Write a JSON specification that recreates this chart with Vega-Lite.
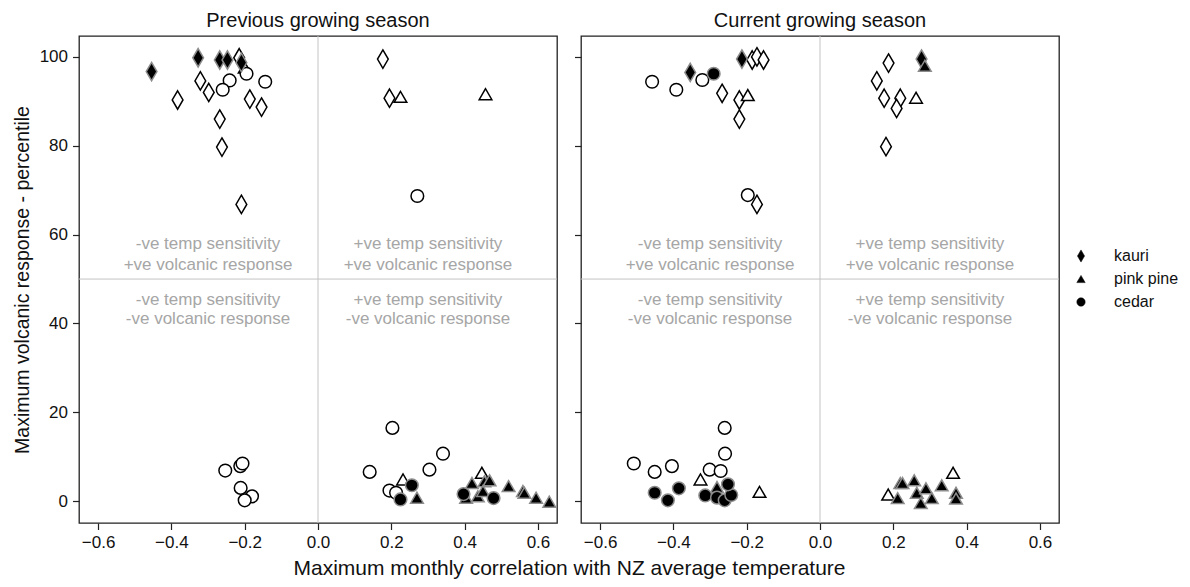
{
  "$schema": "https://vega.github.io/schema/vega-lite/v6.json",
  "background": "white",
  "padding": {"left": 11, "top": 9, "right": 5, "bottom": 5},
  "config": {
    "font": "Liberation Sans",
    "view": {"stroke": "#222", "strokeWidth": 1.3},
    "axis": {"grid": false, "domain": false, "labelFontSize": 17, "labelColor": "#111", "tickColor": "#222", "tickSize": 6.5, "tickWidth": 1.2, "titleFontSize": 19.5, "titleFontWeight": "normal", "titleColor": "#111", "labelPadding": 5},
    "title": {"fontSize": 20, "fontWeight": "normal", "color": "#111", "offset": 5},
    "legend": {"labelFontSize": 16, "labelColor": "#111"}
  },
  "datasets": {
    "pts": [
      {"season": "Previous", "species": "kauri", "filled": "no", "x": -0.215, "y": 99.8},
      {"season": "Previous", "species": "kauri", "filled": "no", "x": -0.321, "y": 94.6},
      {"season": "Previous", "species": "kauri", "filled": "no", "x": -0.298, "y": 92.0},
      {"season": "Previous", "species": "kauri", "filled": "no", "x": -0.383, "y": 90.3},
      {"season": "Previous", "species": "kauri", "filled": "no", "x": -0.186, "y": 90.5},
      {"season": "Previous", "species": "kauri", "filled": "no", "x": -0.154, "y": 88.7},
      {"season": "Previous", "species": "kauri", "filled": "no", "x": -0.268, "y": 86.0},
      {"season": "Previous", "species": "kauri", "filled": "no", "x": -0.262, "y": 79.7},
      {"season": "Previous", "species": "kauri", "filled": "no", "x": -0.209, "y": 66.8},
      {"season": "Previous", "species": "kauri", "filled": "no", "x": 0.177, "y": 99.5},
      {"season": "Previous", "species": "kauri", "filled": "no", "x": 0.195, "y": 90.7},
      {"season": "Previous", "species": "pink pine", "filled": "no", "x": -0.2, "y": 97.6},
      {"season": "Previous", "species": "pink pine", "filled": "no", "x": 0.225, "y": 91.0},
      {"season": "Previous", "species": "pink pine", "filled": "no", "x": 0.457, "y": 91.6},
      {"season": "Previous", "species": "pink pine", "filled": "no", "x": 0.232, "y": 4.9},
      {"season": "Previous", "species": "pink pine", "filled": "no", "x": 0.447, "y": 6.4},
      {"season": "Previous", "species": "cedar", "filled": "no", "x": -0.195, "y": 96.2},
      {"season": "Previous", "species": "cedar", "filled": "no", "x": -0.241, "y": 94.7},
      {"season": "Previous", "species": "cedar", "filled": "no", "x": -0.26, "y": 92.6},
      {"season": "Previous", "species": "cedar", "filled": "no", "x": -0.144, "y": 94.4},
      {"season": "Previous", "species": "cedar", "filled": "no", "x": 0.271, "y": 68.7},
      {"season": "Previous", "species": "cedar", "filled": "no", "x": -0.253, "y": 6.9},
      {"season": "Previous", "species": "cedar", "filled": "no", "x": -0.212, "y": 7.9},
      {"season": "Previous", "species": "cedar", "filled": "no", "x": -0.206, "y": 8.5},
      {"season": "Previous", "species": "cedar", "filled": "no", "x": -0.211, "y": 3.0},
      {"season": "Previous", "species": "cedar", "filled": "no", "x": -0.18, "y": 1.1},
      {"season": "Previous", "species": "cedar", "filled": "no", "x": -0.2, "y": 0.2},
      {"season": "Previous", "species": "cedar", "filled": "no", "x": 0.203, "y": 16.5},
      {"season": "Previous", "species": "cedar", "filled": "no", "x": 0.341, "y": 10.7},
      {"season": "Previous", "species": "cedar", "filled": "no", "x": 0.141, "y": 6.6},
      {"season": "Previous", "species": "cedar", "filled": "no", "x": 0.304, "y": 7.1},
      {"season": "Previous", "species": "cedar", "filled": "no", "x": 0.195, "y": 2.4},
      {"season": "Previous", "species": "cedar", "filled": "no", "x": 0.213, "y": 1.9},
      {"season": "Previous", "species": "kauri", "filled": "yes", "x": -0.454, "y": 96.7},
      {"season": "Previous", "species": "kauri", "filled": "yes", "x": -0.327, "y": 99.8},
      {"season": "Previous", "species": "kauri", "filled": "yes", "x": -0.268, "y": 99.3},
      {"season": "Previous", "species": "kauri", "filled": "yes", "x": -0.247, "y": 99.3},
      {"season": "Previous", "species": "kauri", "filled": "yes", "x": -0.209, "y": 98.7},
      {"season": "Previous", "species": "pink pine", "filled": "yes", "x": 0.27, "y": 0.8},
      {"season": "Previous", "species": "pink pine", "filled": "yes", "x": 0.42, "y": 4.1},
      {"season": "Previous", "species": "pink pine", "filled": "yes", "x": 0.454, "y": 4.5},
      {"season": "Previous", "species": "pink pine", "filled": "yes", "x": 0.468, "y": 4.7},
      {"season": "Previous", "species": "pink pine", "filled": "yes", "x": 0.404, "y": 0.8},
      {"season": "Previous", "species": "pink pine", "filled": "yes", "x": 0.436, "y": 1.1},
      {"season": "Previous", "species": "pink pine", "filled": "yes", "x": 0.45, "y": 2.3},
      {"season": "Previous", "species": "pink pine", "filled": "yes", "x": 0.52, "y": 3.4},
      {"season": "Previous", "species": "pink pine", "filled": "yes", "x": 0.559, "y": 2.3},
      {"season": "Previous", "species": "pink pine", "filled": "yes", "x": 0.563, "y": 1.9},
      {"season": "Previous", "species": "pink pine", "filled": "yes", "x": 0.595, "y": 0.8},
      {"season": "Previous", "species": "pink pine", "filled": "yes", "x": 0.631, "y": -0.1},
      {"season": "Previous", "species": "cedar", "filled": "yes", "x": 0.256, "y": 3.6},
      {"season": "Previous", "species": "cedar", "filled": "yes", "x": 0.225, "y": 0.4},
      {"season": "Previous", "species": "cedar", "filled": "yes", "x": 0.397, "y": 1.6},
      {"season": "Previous", "species": "cedar", "filled": "yes", "x": 0.479, "y": 0.7},

      {"season": "Current", "species": "kauri", "filled": "no", "x": -0.267, "y": 91.8},
      {"season": "Current", "species": "kauri", "filled": "no", "x": -0.185, "y": 99.3},
      {"season": "Current", "species": "kauri", "filled": "no", "x": -0.172, "y": 100.0},
      {"season": "Current", "species": "kauri", "filled": "no", "x": -0.154, "y": 99.3},
      {"season": "Current", "species": "kauri", "filled": "no", "x": -0.22, "y": 90.3},
      {"season": "Current", "species": "kauri", "filled": "no", "x": -0.22, "y": 86.0},
      {"season": "Current", "species": "kauri", "filled": "no", "x": -0.172, "y": 66.8},
      {"season": "Current", "species": "kauri", "filled": "no", "x": 0.187, "y": 98.6},
      {"season": "Current", "species": "kauri", "filled": "no", "x": 0.155, "y": 94.6},
      {"season": "Current", "species": "kauri", "filled": "no", "x": 0.175, "y": 90.7},
      {"season": "Current", "species": "kauri", "filled": "no", "x": 0.219, "y": 90.7},
      {"season": "Current", "species": "kauri", "filled": "no", "x": 0.209, "y": 88.4},
      {"season": "Current", "species": "kauri", "filled": "no", "x": 0.18, "y": 79.8},
      {"season": "Current", "species": "pink pine", "filled": "no", "x": -0.197, "y": 91.4},
      {"season": "Current", "species": "pink pine", "filled": "no", "x": 0.262, "y": 90.8},
      {"season": "Current", "species": "pink pine", "filled": "no", "x": -0.326, "y": 4.9},
      {"season": "Current", "species": "pink pine", "filled": "no", "x": -0.165, "y": 2.1},
      {"season": "Current", "species": "pink pine", "filled": "no", "x": 0.363, "y": 6.4},
      {"season": "Current", "species": "pink pine", "filled": "no", "x": 0.186, "y": 1.5},
      {"season": "Current", "species": "cedar", "filled": "no", "x": -0.458, "y": 94.4},
      {"season": "Current", "species": "cedar", "filled": "no", "x": -0.392, "y": 92.6},
      {"season": "Current", "species": "cedar", "filled": "no", "x": -0.321, "y": 94.8},
      {"season": "Current", "species": "cedar", "filled": "no", "x": -0.197, "y": 68.9},
      {"season": "Current", "species": "cedar", "filled": "no", "x": -0.26, "y": 16.5},
      {"season": "Current", "species": "cedar", "filled": "no", "x": -0.259, "y": 10.7},
      {"season": "Current", "species": "cedar", "filled": "no", "x": -0.508, "y": 8.5},
      {"season": "Current", "species": "cedar", "filled": "no", "x": -0.451, "y": 6.6},
      {"season": "Current", "species": "cedar", "filled": "no", "x": -0.404, "y": 7.9},
      {"season": "Current", "species": "cedar", "filled": "no", "x": -0.301, "y": 7.1},
      {"season": "Current", "species": "cedar", "filled": "no", "x": -0.271, "y": 6.8},
      {"season": "Current", "species": "kauri", "filled": "yes", "x": -0.354, "y": 96.5},
      {"season": "Current", "species": "kauri", "filled": "yes", "x": -0.213, "y": 99.5},
      {"season": "Current", "species": "kauri", "filled": "yes", "x": 0.277, "y": 99.5},
      {"season": "Current", "species": "pink pine", "filled": "yes", "x": 0.286, "y": 98.0},
      {"season": "Current", "species": "pink pine", "filled": "yes", "x": -0.281, "y": 3.2},
      {"season": "Current", "species": "pink pine", "filled": "yes", "x": 0.219, "y": 4.1},
      {"season": "Current", "species": "pink pine", "filled": "yes", "x": 0.225, "y": 4.1},
      {"season": "Current", "species": "pink pine", "filled": "yes", "x": 0.257, "y": 4.7},
      {"season": "Current", "species": "pink pine", "filled": "yes", "x": 0.212, "y": 0.7},
      {"season": "Current", "species": "pink pine", "filled": "yes", "x": 0.264, "y": 1.9},
      {"season": "Current", "species": "pink pine", "filled": "yes", "x": 0.275, "y": -0.4},
      {"season": "Current", "species": "pink pine", "filled": "yes", "x": 0.289, "y": 2.9},
      {"season": "Current", "species": "pink pine", "filled": "yes", "x": 0.305, "y": 0.7},
      {"season": "Current", "species": "pink pine", "filled": "yes", "x": 0.332, "y": 3.6},
      {"season": "Current", "species": "pink pine", "filled": "yes", "x": 0.371, "y": 1.9},
      {"season": "Current", "species": "pink pine", "filled": "yes", "x": 0.371, "y": 0.6},
      {"season": "Current", "species": "cedar", "filled": "yes", "x": -0.29, "y": 96.2},
      {"season": "Current", "species": "cedar", "filled": "yes", "x": -0.451, "y": 1.9},
      {"season": "Current", "species": "cedar", "filled": "yes", "x": -0.415, "y": 0.2},
      {"season": "Current", "species": "cedar", "filled": "yes", "x": -0.385, "y": 2.9},
      {"season": "Current", "species": "cedar", "filled": "yes", "x": -0.313, "y": 1.3},
      {"season": "Current", "species": "cedar", "filled": "yes", "x": -0.281, "y": 0.8},
      {"season": "Current", "species": "cedar", "filled": "yes", "x": -0.26, "y": 0.2},
      {"season": "Current", "species": "cedar", "filled": "yes", "x": -0.242, "y": 1.4},
      {"season": "Current", "species": "cedar", "filled": "yes", "x": -0.251, "y": 3.8}
    ],
    "ann": [
      {"x": -0.3, "y": 57.9, "label": "-ve temp sensitivity"},
      {"x": -0.3, "y": 53.2, "label": "+ve volcanic response"},
      {"x": 0.3, "y": 57.9, "label": "+ve temp sensitivity"},
      {"x": 0.3, "y": 53.2, "label": "+ve volcanic response"},
      {"x": -0.3, "y": 45.3, "label": "-ve temp sensitivity"},
      {"x": -0.3, "y": 40.9, "label": "-ve volcanic response"},
      {"x": 0.3, "y": 45.3, "label": "+ve temp sensitivity"},
      {"x": 0.3, "y": 40.9, "label": "-ve volcanic response"}
    ],
    "vline": [{"v": 0}],
    "hline": [{"v": 50}]
  },
  "spacing": 24,
  "bounds": "flush",
  "hconcat": [
    {
      "width": 478,
      "height": 487,
      "title": "Previous growing season",
      "layer": [
        {"data": {"name": "vline"}, "mark": {"type": "rule", "color": "#c4c4c4", "strokeWidth": 1}, "encoding": {"x": {"field": "v", "type": "quantitative", "scale": {"domain": [-0.652, 0.652], "nice": false, "zero": false}}}},
        {"data": {"name": "hline"}, "mark": {"type": "rule", "color": "#c4c4c4", "strokeWidth": 1}, "encoding": {"y": {"field": "v", "type": "quantitative", "scale": {"domain": [-4.9, 104.7], "nice": false, "zero": false}}}},
        {"data": {"name": "ann"}, "mark": {"type": "text", "baseline": "middle", "align": "center", "fontSize": 17, "color": "#a6a6a6"}, "encoding": {"x": {"field": "x", "type": "quantitative"}, "y": {"field": "y", "type": "quantitative"}, "text": {"field": "label"}}},
        {
          "data": {"name": "pts"},
          "transform": [{"filter": "datum.season == 'Previous'"}],
          "mark": {"type": "point", "filled": false, "size": 160, "strokeWidth": 1.5, "opacity": 1},
          "encoding": {
            "x": {"field": "x", "type": "quantitative", "scale": {"domain": [-0.652, 0.652], "nice": false, "zero": false}, "axis": {"values": [-0.6, -0.4, -0.2, 0, 0.2, 0.4, 0.6], "format": ".1f", "title": "Maximum monthly correlation with NZ average temperature", "titleX": 490, "titlePadding": 7, "titleFontSize": 21}},
            "y": {"field": "y", "type": "quantitative", "scale": {"domain": [-4.9, 104.7], "nice": false, "zero": false}, "axis": {"values": [0, 20, 40, 60, 80, 100], "title": "Maximum volcanic response - percentile", "titlePadding": 7}},
            "shape": {"field": "species", "type": "nominal", "scale": {"domain": ["kauri", "pink pine", "cedar"], "range": ["M0,-1.45L0.85,0L0,1.45L-0.85,0Z", "triangle-up", "circle"]}, "legend": {"title": null, "orient": "none", "legendX": 994, "legendY": 212, "symbolSize": 70, "symbolFillColor": "black", "symbolStrokeColor": "black", "symbolStrokeWidth": 0.5, "rowPadding": 7, "labelOffset": 25}},
            "fill": {"field": "filled", "type": "nominal", "scale": {"domain": ["yes", "no"], "range": ["black", "white"]}, "legend": null},
            "stroke": {"field": "filled", "type": "nominal", "scale": {"domain": ["yes", "no"], "range": ["#8c8c8c", "black"]}, "legend": null}
          }
        }
      ]
    },
    {
      "width": 478,
      "height": 487,
      "title": "Current growing season",
      "layer": [
        {"data": {"name": "vline"}, "mark": {"type": "rule", "color": "#c4c4c4", "strokeWidth": 1}, "encoding": {"x": {"field": "v", "type": "quantitative", "scale": {"domain": [-0.652, 0.652], "nice": false, "zero": false}}}},
        {"data": {"name": "hline"}, "mark": {"type": "rule", "color": "#c4c4c4", "strokeWidth": 1}, "encoding": {"y": {"field": "v", "type": "quantitative", "scale": {"domain": [-4.9, 104.7], "nice": false, "zero": false}}}},
        {"data": {"name": "ann"}, "mark": {"type": "text", "baseline": "middle", "align": "center", "fontSize": 17, "color": "#a6a6a6"}, "encoding": {"x": {"field": "x", "type": "quantitative"}, "y": {"field": "y", "type": "quantitative"}, "text": {"field": "label"}}},
        {
          "data": {"name": "pts"},
          "transform": [{"filter": "datum.season == 'Current'"}],
          "mark": {"type": "point", "filled": false, "size": 160, "strokeWidth": 1.5, "opacity": 1},
          "encoding": {
            "x": {"field": "x", "type": "quantitative", "scale": {"domain": [-0.652, 0.652], "nice": false, "zero": false}, "axis": {"values": [-0.6, -0.4, -0.2, 0, 0.2, 0.4, 0.6], "format": ".1f", "title": null}},
            "y": {"field": "y", "type": "quantitative", "scale": {"domain": [-4.9, 104.7], "nice": false, "zero": false}, "axis": {"values": [0, 20, 40, 60, 80, 100], "labels": false, "title": null}},
            "shape": {"field": "species", "type": "nominal", "scale": {"domain": ["kauri", "pink pine", "cedar"], "range": ["M0,-1.45L0.85,0L0,1.45L-0.85,0Z", "triangle-up", "circle"]}},
            "fill": {"field": "filled", "type": "nominal", "scale": {"domain": ["yes", "no"], "range": ["black", "white"]}, "legend": null},
            "stroke": {"field": "filled", "type": "nominal", "scale": {"domain": ["yes", "no"], "range": ["#8c8c8c", "black"]}, "legend": null}
          }
        }
      ]
    }
  ]
}
